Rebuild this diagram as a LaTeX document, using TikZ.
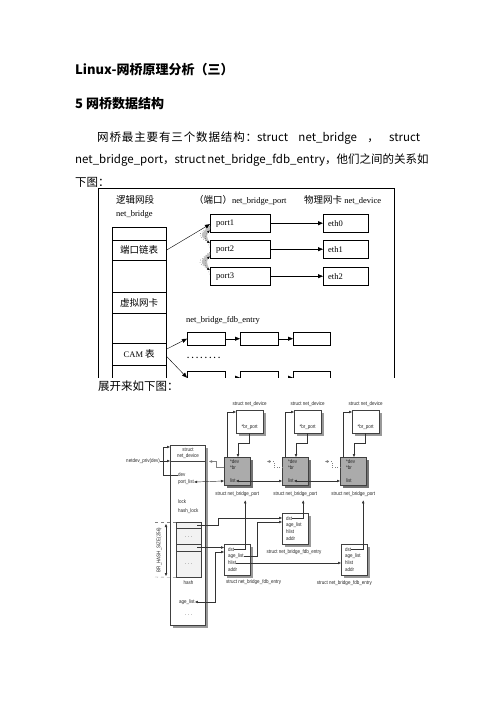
\documentclass[tikz,border=0pt]{standalone}
\usepackage{fontspec}
\setmainfont{Liberation Serif}
\newfontfamily\cjk{Noto Sans CJK SC}
\newfontfamily\lbl[FakeStretch=0.85]{Liberation Sans}
\usetikzlibrary{arrows.meta,shadows}
\XeTeXlinebreaklocale "zh"
\XeTeXlinebreakskip=0pt plus 1pt

\tikzset{
  body/.style={anchor=west,font=\cjk\fontsize{11.5}{14}\selectfont},
  head/.style={anchor=west,font=\cjk\bfseries\fontsize{13}{15}\selectfont},
  han/.style={anchor=west,font=\cjk\fontsize{9.5}{11}\selectfont},
  ser/.style={anchor=west,font=\fontsize{8.5}{10}\selectfont},
  fld/.style={font=\lbl\fontsize{5.3}{6}\selectfont,text=black!85},
  cellbox/.style={draw,thin,anchor=north west,minimum width=54pt,font=\cjk\fontsize{9.5}{11}\selectfont},
  portbox/.style={draw,thin,anchor=north west,text width=48pt,inner xsep=6pt,minimum height=18pt,font=\fontsize{8.5}{10}\selectfont},
  ethbox/.style={draw,thin,anchor=north west,text width=35pt,inner xsep=5pt,minimum height=18pt,font=\fontsize{8.5}{10}\selectfont},
  fdbcell/.style={draw,thin,anchor=north west,minimum width=38pt,minimum height=13pt},
  tri/.style={-{Triangle[length=5pt,width=4pt]}},
  ptr/.style={draw=black!80,line width=0.45pt,-{Triangle[length=3pt,width=2.4pt]}},
  dptr/.style={draw=black!80,line width=0.45pt,{Triangle[length=3pt,width=2.4pt]}-{Triangle[length=3pt,width=2.4pt]}},
  shade/.style={drop shadow={shadow xshift=3pt,shadow yshift=-3pt,fill=black!40,opacity=1}},
  ndbox/.style={draw=black!75,fill=white,thin,anchor=north west,minimum width=27pt,minimum height=23pt,shade},
  pbbox/.style={draw=black!75,fill=black!33,thin,anchor=north west,minimum width=26pt,minimum height=28pt,
    drop shadow={shadow xshift=3pt,shadow yshift=-3pt,fill=black!55,opacity=1}},
  fdbbox/.style={draw=black!75,fill=white,thin,anchor=north west,minimum width=26pt,minimum height=31pt,shade}
}

\begin{document}
\begin{tikzpicture}[x=1pt,y=-1pt,every node/.style={inner sep=0pt}]
\fill[white] (0,0) rectangle (496,702);
\useasboundingbox (0,0) rectangle (496,702);

% page text
\node[head] (title) at (75,70) {Linux-网桥原理分析（三）};
\node[head] (sec) at (75,104) {5 网桥数据结构};
\node[body] (ln1) at (97,138) {\makebox[160pt][s]{网\hfil 桥\hfil 最\hfil 主\hfil 要\hfil 有\hfil 三\hfil 个\hfil 数\hfil 据\hfil 结\hfil 构\hfil ：}\makebox[163pt][s]{struct\hfil net\_bridge\hfil ，\hfil struct}};
\node[body] (ln2) at (75,160) {\makebox[345pt][s]{net\_bridge\_port，struct net\_bridge\_fdb\_entry，他们之间的关系如}};
\node[body] (ln3) at (75,182) {下图：};
\node[body] (ln4) at (98,386) {展开来如下图：};

% first picture
\begin{scope}
\clip (96,186) rectangle (396,377);
\draw[thin] (98,380) |- (394,188) -- (394,380);
\node[han] (lj) at (116,200) {逻辑网段};
\node[ser] (nbr) at (116,214) {net\_bridge};
\node[han] (dk) at (194,200) {（端口）{\rmfamily\fontsize{8.5}{10}\selectfont net\_bridge\_port}};
\node[han] (wl) at (304,200) {物理网卡 {\rmfamily\fontsize{8.5}{10}\selectfont net\_device}};

\node[cellbox,minimum height=13pt] (c0) at (112,227) {};
\node[cellbox,minimum height=20pt] (c1) at (112,240) {端口链表};
\node[cellbox,minimum height=32pt] (c2) at (112,260) {};
\node[cellbox,minimum height=21pt] (c3) at (112,292) {虚拟网卡};
\node[cellbox,minimum height=30pt] (c4) at (112,313) {};
\node[cellbox,minimum height=22pt] (c5) at (112,343) {{\rmfamily\fontsize{8.5}{10}\selectfont CAM} 表};
\node[cellbox,minimum height=20pt] (c6) at (112,365) {};

\foreach \n/\e/\y in {1/0/214,2/1/240,3/2/267} {
  \node[portbox] (port\n) at (210,\y) {port\n};
  \node[ethbox] (eth\e) at (323,\y) {eth\e};
}
\draw[tri,line width=1pt] (port1) -- (eth0);
\draw[tri] (port2) -- (eth1);
\draw[tri] (port3) -- (eth2);
\draw[tri] (c1.east) -- ([yshift=-1pt]port1.west);

% list links between ports
\fill[black!25] ([yshift=-3pt]port1.west) .. controls (199,235) .. ([yshift=6pt]port2.west)
  .. controls (206,236) .. ([yshift=-6pt]port1.west) -- cycle;
\draw[dotted,-{Latex[length=3pt]}] ([yshift=-3pt]port1.west) .. controls (197,235) .. ([yshift=6pt]port2.west);
\draw[dotted,-{Latex[length=3pt]}] ([yshift=2pt]port2.west) .. controls (204,236) .. ([yshift=-7pt]port1.west);
\fill[black!25] ([yshift=-3pt]port2.west) .. controls (199,262) .. ([yshift=6pt]port3.west)
  .. controls (206,262) .. ([yshift=-6pt]port2.west) -- cycle;
\draw[dotted,-{Latex[length=3pt]}] ([yshift=-3pt]port2.west) .. controls (197,262) .. ([yshift=6pt]port3.west);
\draw[dotted,-{Latex[length=3pt]}] ([yshift=2pt]port3.west) .. controls (204,262) .. ([yshift=-7pt]port2.west);

\node[ser] (fdbl) at (186,320) {net\_bridge\_fdb\_entry};
\node[fdbcell] (f1) at (187,332) {};
\node[fdbcell] (f2) at (240,332) {};
\node[fdbcell,minimum width=37pt] (f3) at (293,332) {};
\draw[tri] (f1) -- (f2);
\draw[tri] (f2) -- (f3);
\draw[tri] ([yshift=5pt]c5.east) -- (f1.west);
\node[ser,font=\bfseries\fontsize{8.5}{10}\selectfont] (dots) at (187,358) {.\hspace{2.3pt}.\hspace{2.3pt}.\hspace{2.3pt}.\hspace{2.3pt}.\hspace{2.3pt}.\hspace{2.3pt}.\hspace{2.3pt}.};
\node[fdbcell] (g1) at (187,371) {};
\node[fdbcell] (g2) at (240,371) {};
\node[fdbcell,minimum width=37pt] (g3) at (293,371) {};
\draw[tri] (g1) -- (g2);
\draw[tri] (g2) -- (g3);
\draw[tri] ([yshift=-2pt]c5.east) -- (g1.west);
\end{scope}

% second picture: bridge device
\node[draw=black!75,fill=white,anchor=north west,minimum width=35pt,minimum height=180pt,shade] (brdev) at (170,445) {};
\node[fld] (hd1) at (188,450) {struct};
\node[fld] (hd2) at (188,456) {net\_device};
\coordinate (hdr) at (170,461);
\draw[black!75,thin] (hdr) -- ++(35,0);
\node[fld,anchor=west] (fdev) at (178,475) {dev};
\node[fld,anchor=west] (plist) at (178,482) {port\_list};
\node[fld,anchor=west] (flock) at (178,502) {lock};
\node[fld,anchor=west] (hlock) at (178,511) {hash\_lock};
\node[draw=black!75,fill=black!5,anchor=north west,minimum width=25pt,minimum height=55pt] (hash) at (176,522) {};
\foreach \y in {528.5,544,551}
  \draw[black!75,thin] (176,\y) -- (201,\y);
\node[fld] (hd3) at (188.5,537) {. . .};
\node[fld] (hd4) at (188.5,564) {. . .};
\node[fld] (hname) at (188.5,583) {hash};
\node[fld,anchor=west] (agecol) at (179,602) {age\_list};
\node[fld] (hd5) at (188.5,615) {. . .};
\coordinate (slot1) at (197,525);
\coordinate (slot2) at (197,547.5);

\node[fld,anchor=east] (npriv) at (160,461) {netdev\_priv(dev)};
\draw[ptr] (npriv.east) -- (hdr);
\draw[ptr] (fdev.west) -- ++(-15,0) |- ([yshift=-2pt]brdev.north west);

\draw[dashed,black!50] (155,522) -- (hash.north west);
\draw[dashed,black!50] (155,577) -- (hash.south west);
\coordinate (hs1) at (166,524);
\coordinate (hs2) at (166,576);
\draw[dptr] (hs1) -- (hs2);
\node[fld,rotate=90] (hsz) at (159,550) {BR\_HASH\_SIZE(256)};

% ports and their devices
\foreach \i/\lk in {0/solid,1/dotted,2/dotted} {
  \pgfmathsetmacro\px{224+58*\i}
  \node[ndbox] (nd\i) at (\px+12,410) {};
  \node[fld,anchor=south] (ndl\i) at ([yshift=3pt]nd\i.north) {struct net\_device};
  \node[fld] (bp\i) at ([yshift=-5pt]nd\i.center) {*br\_port};
  \node[pbbox] (pb\i) at (\px,457) {};
  \node[fld,anchor=west] (dv\i) at (\px+6,462) {*dev};
  \node[fld,anchor=west] (br\i) at (\px+6,467.5) {*br};
  \node[fld,anchor=west] (ls\i) at (\px+6,481) {list};
  \node[fld,anchor=north] (pbl\i) at ([yshift=-6.5pt]pb\i.south) {struct net\_bridge\_port};
  \draw[ptr] ([xshift=3pt]pb\i.north west) |- ([yshift=-2pt]nd\i.north west);
  \draw[ptr] (nd\i.south) -- ++(0,10) -| ([xshift=14pt]pb\i.north west);
  \draw[ptr,draw=black!50,\lk] (pb\i.west |- br\i) -- ++(-8,0) -- ++(0,-6) -- ++(-7,0);
}
\draw[dptr] (plist.east) -- (pb0.west |- ls0);
\draw[dptr] (ls0.east) -- (pb1.west |- ls1);
\draw[dptr] (ls1.east) -- (pb2.west |- ls2);

% fdb entries
\node[fdbbox] (fa) at (224,544) {};
\node[fdbbox] (fb) at (282,513) {};
\node[fdbbox] (fc) at (341,544) {};
\foreach \b/\x/\y in {a/228/544,b/286/513,c/345/544} {
  \node[fld,anchor=west] (dst\b) at (\x,\y+5.5) {dst};
  \node[fld,anchor=west] (age\b) at (\x,\y+12.5) {age\_list};
  \node[fld,anchor=west] (hl\b) at (\x,\y+19) {hlist};
  \node[fld,anchor=west] (ad\b) at (\x,\y+25.5) {addr};
}
\node[fld,anchor=west] (fal) at (226,582) {struct net\_bridge\_fdb\_entry};
\node[fld] (fbl) at (294,552) {struct net\_bridge\_fdb\_entry};
\node[fld,anchor=east] (fcl) at (372,583) {struct net\_bridge\_fdb\_entry};

\draw[ptr] (dsta.east) -| ([xshift=8pt,yshift=-15pt]pb0.south);
\draw[ptr] (dstb.east) -| ([xshift=8pt,yshift=-15pt]pb1.south);
\draw[ptr] (dstc.east) -| ([xshift=10pt,yshift=-15pt]pb2.south);
\draw[ptr] (slot1) -- ++(21,0) |- ([yshift=-5pt]fb.north west);
\draw[ptr] (slot2) -- (fa.west |- slot2);
\coordinate (agebend) at (215,602);
\draw[dptr] (agecol.east) -- (agebend) |- ([yshift=-8pt]fa.north west);
\draw[ptr] (agea.east) -- (agea.east -| 257,0) |- ([yshift=-9pt]fb.north west);
\draw[ptr] (hla.east) -- (fc.west |- hla.east);
\end{tikzpicture}
\end{document}
